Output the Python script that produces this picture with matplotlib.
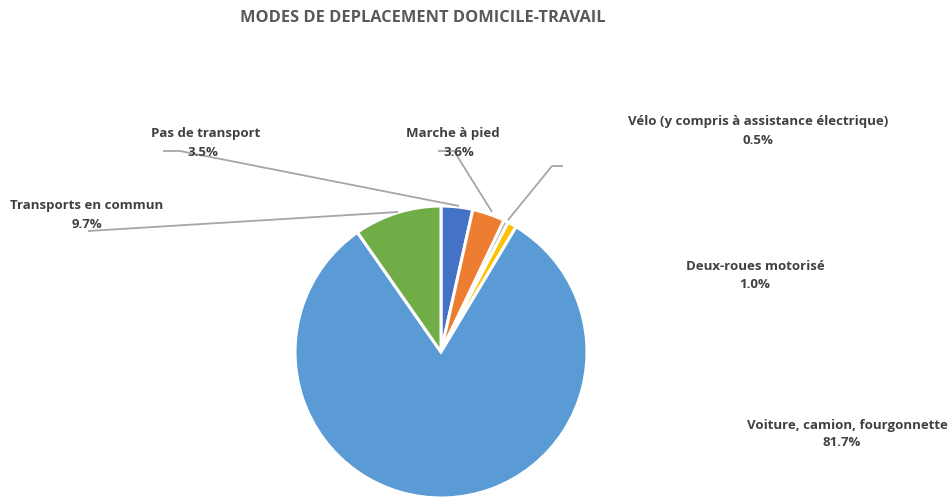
import matplotlib
matplotlib.use("Agg")
import matplotlib.pyplot as plt

categories = ["Pas de transport", "Marche à pied", "Vélo (y compris à assistance électrique)",
              "Deux-roues motorisé", "Voiture, camion, fourgonnette", "Transports en commun"]
values = [3.5, 3.6, 0.5, 1.0, 81.7, 9.7]
colors = ["#4472C4", "#ED7D31", "#A5A5A5", "#FFC000", "#5B9BD5", "#70AD47"]
title = "MODES DE DEPLACEMENT DOMICILE-TRAVAIL"

W, H = 950, 497
fig = plt.figure(figsize=(W / 100, H / 100), dpi=100)
ax = fig.add_axes([0, 0, 1, 1])

cx, cy, R = 441, H - 352, 146
ax.pie(values, colors=colors, startangle=90, counterclock=False,
       center=(cx, cy), radius=R,
       wedgeprops=dict(edgecolor="white", linewidth=2.2))
ax.set_xlim(0, W)
ax.set_ylim(0, H)
ax.set_aspect("auto")
ax.axis("off")

font = "Open Sans"
tc = "#404040"

def y(v):
    return H - v

fig.text(423 / W, y(18) / H, title, ha="center", va="center",
         fontsize=11.8, fontweight="bold", color="#595959", family=font)

# label name positions (pixel centers) and value positions
label_pos = [((206, 133), (203, 152)),
             ((453, 133), (459, 152)),
             ((758, 122), (758, 141)),
             ((755, 266), (755, 284)),
             ((847, 425), (842, 443)),
             ((87, 205), (87, 224))]

for cat, val, ((nx, ny), (vx, vy)) in zip(categories, values, label_pos):
    ax.text(nx, y(ny), cat, ha="center", va="center", fontsize=9.5,
            fontweight="bold", color=tc, family=font, zorder=5)
    ax.text(vx, y(vy), f"{val:.1f}%", ha="center", va="center", fontsize=9.5,
            fontweight="bold", color=tc, family=font, zorder=5)

leaders = [[(163, 151), (180, 151), (459, 206)],
           [(438, 151), (454, 151), (492, 212)],
           [(563, 166), (552, 166), (508, 220)],
           [(88, 231), (398, 212)]]
for pts in leaders:
    xs = [p[0] for p in pts]
    ys = [y(p[1]) for p in pts]
    ax.plot(xs, ys, color="#A6A6A6", lw=1.3, zorder=4, solid_capstyle="butt")

fig.savefig("out.png", dpi=100, facecolor="white")
